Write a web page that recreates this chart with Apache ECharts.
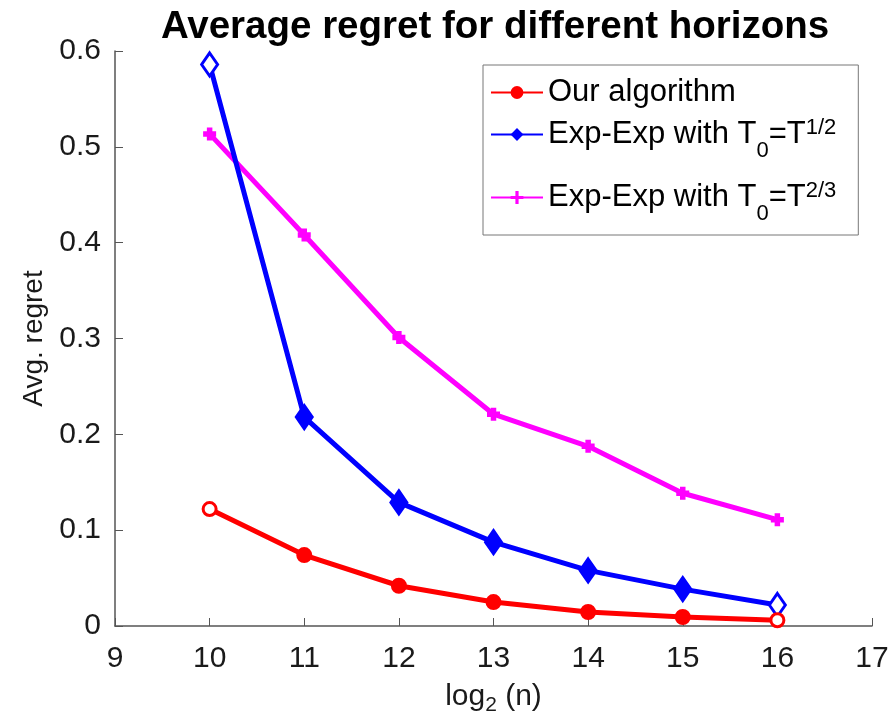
<!DOCTYPE html>
<html><head><meta charset="utf-8">
<script src="https://cdn.jsdelivr.net/npm/echarts@6/dist/echarts.min.js"></script>
<style>html,body{margin:0;padding:0;background:#fff}#c{width:893px;height:724px}</style>
</head><body><div id="c"></div>
<script>
const xValues = [10, 11, 12, 13, 14, 15, 16];
const ourAlgorithm = [0.122, 0.074, 0.042, 0.025, 0.0146, 0.0094, 0.006];
const expSqrt = [0.586, 0.218, 0.129, 0.0875, 0.058, 0.0385, 0.022];
const expTwoThirds = [0.5135, 0.408, 0.301, 0.221, 0.1875, 0.1385, 0.111];
const seriesNames = ['Our algorithm', 'Exp-Exp with T0=T1/2', 'Exp-Exp with T0=T2/3'];
const xTicks = [9, 10, 11, 12, 13, 14, 15, 16, 17];
const yTicks = [0, 0.1, 0.2, 0.3, 0.4, 0.5, 0.6];

const FONT = 'Liberation Sans';
const TXT = '#1a1a1a';
function mk(vals, color, hollowEnds) {
  return xValues.map((x, i) => {
    const hollow = hollowEnds && (i === 0 || i === vals.length - 1);
    return { value: [x, vals[i]], itemStyle: { color: hollow ? '#fff' : color, borderColor: color, borderWidth: 3 } };
  });
}
const PLUS = 'path://M3,0H5V3H8V5H5V8H3V5H0V3H3Z';
const chart = echarts.init(document.getElementById('c'), null, { renderer: 'canvas' });
chart.setOption({
  backgroundColor: '#fff',
  animation: false,
  title: {
    text: 'Average regret for different horizons',
    left: 490, textAlign: 'center', top: 3,
    textStyle: { fontFamily: FONT, fontWeight: 'bold', fontSize: 38.5, color: '#000' }
  },
  grid: { left: 115, right: 21, top: 51, bottom: 98, outerBoundsMode: 'none', containLabel: false },
  legend: {
    left: 483, top: 65,
    orient: 'vertical',
    borderColor: '#777', borderWidth: 1,
    padding: [12, 22, 1, 7],
    itemGap: -10, itemWidth: 52, itemHeight: 16,
    data: seriesNames,
    formatter: function (n) {
      if (n === seriesNames[0]) return '{r|Our algorithm}';
      if (n === seriesNames[1]) return '{t|Exp-Exp with T}{sub|0}{t|=T}{sup|1/2}';
      return '{t|Exp-Exp with T}{sub|0}{t|=T}{sup|2/3}';
    },
    textStyle: {
      fontFamily: FONT, fontSize: 31, color: '#000', lineHeight: 18,
      rich: {
        r: { fontFamily: FONT, fontSize: 31, color: '#000', lineHeight: 18 },
        t: { fontFamily: FONT, fontSize: 31, color: '#000', verticalAlign: 'middle', lineHeight: 73 },
        sub: { fontFamily: FONT, fontSize: 22, color: '#000', lineHeight: 22, padding: [32, 0, 0, 0], verticalAlign: 'middle' },
        sup: { fontFamily: FONT, fontSize: 22, color: '#000', lineHeight: 22, padding: [0, 0, 14, 0], verticalAlign: 'middle' }
      }
    }
  },
  xAxis: {
    type: 'value', min: 9, max: 17, interval: 1,
    name: 'log{s|2} (n)', nameLocation: 'middle', nameGap: 51,
    nameTextStyle: { fontFamily: FONT, fontSize: 30, color: TXT,
      rich: { s: { fontFamily: FONT, fontSize: 21, color: TXT, padding: [18, 0, 0, 0] } } },
    axisLine: { lineStyle: { color: '#555', width: 1.5 } },
    axisTick: { inside: true, length: 8, lineStyle: { color: '#555' } },
    axisLabel: { fontFamily: FONT, fontSize: 30, color: TXT, margin: 18,
      formatter: v => xTicks.includes(v) ? String(v) : '' },
    splitLine: { show: false }
  },
  yAxis: {
    type: 'value', min: 0, max: 0.6, interval: 0.1,
    name: 'Avg. regret', nameLocation: 'middle', nameGap: 61, nameRotate: 90,
    nameTextStyle: { fontFamily: FONT, fontSize: 28, color: TXT },
    axisLine: { show: true, lineStyle: { color: '#555', width: 1.5 } },
    axisTick: { show: true, inside: true, length: 8, lineStyle: { color: '#555' } },
    axisLabel: { fontFamily: FONT, fontSize: 30, color: TXT, margin: 14,
      formatter: v => { const r = Math.round(v * 10) / 10; return yTicks.includes(r) ? String(r) : ''; } },
    splitLine: { show: false }
  },
  series: [
    { name: seriesNames[0], type: 'line', data: mk(ourAlgorithm, '#ff0000', true),
      symbol: 'circle', symbolSize: 13, lineStyle: { color: '#ff0000', width: 5 },
      itemStyle: { color: '#ff0000' }, z: 4 },
    { name: seriesNames[1], type: 'line', data: mk(expSqrt, '#0000ff', true),
      symbol: 'diamond', symbolSize: [16, 23], lineStyle: { color: '#0000ff', width: 5 },
      itemStyle: { color: '#0000ff' }, z: 3 },
    { name: seriesNames[2], type: 'line', data: mk(expTwoThirds, '#ff00ff', false),
      symbol: PLUS, symbolSize: 10, lineStyle: { color: '#ff00ff', width: 5 },
      itemStyle: { color: '#ff00ff' }, z: 2 }
  ]
});
</script></body></html>
